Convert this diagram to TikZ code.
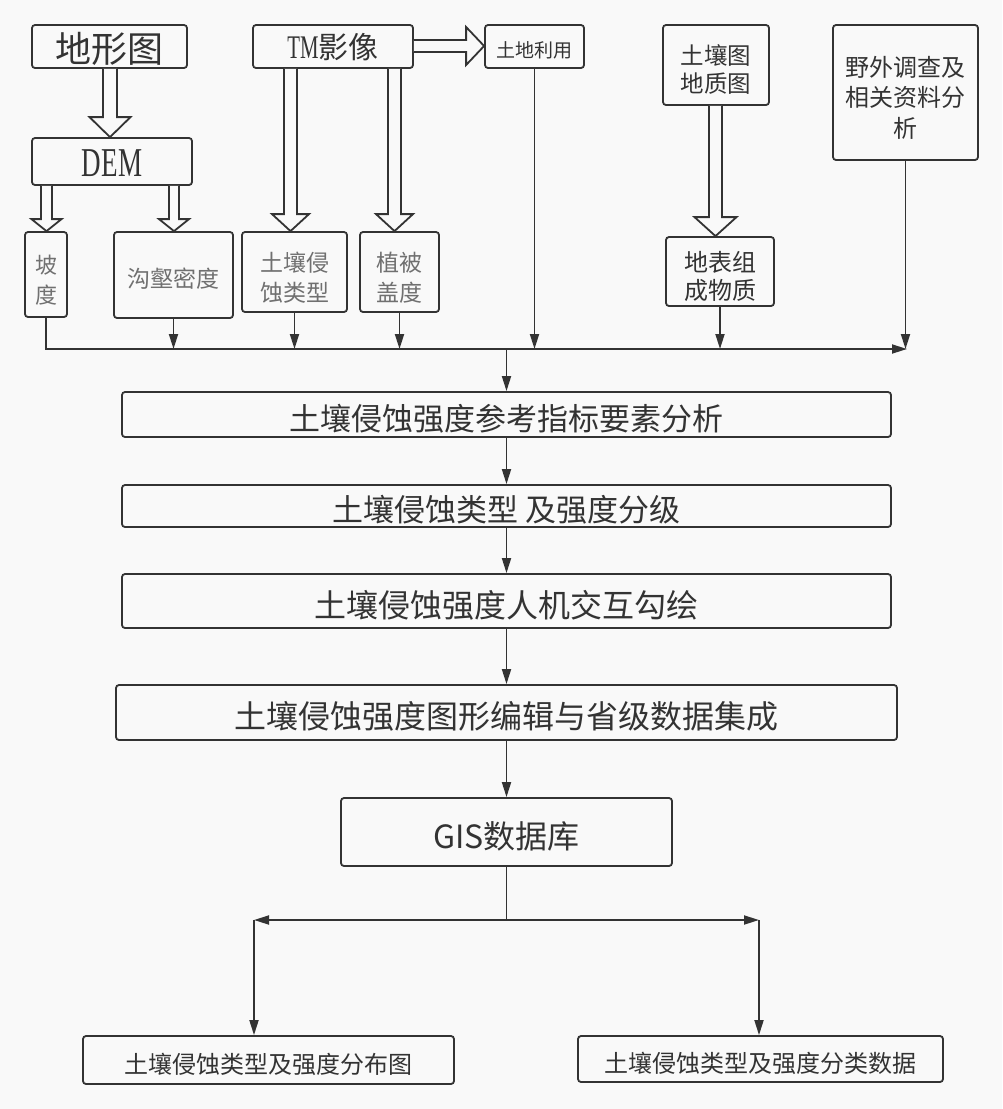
\documentclass[tikz,border=0pt]{standalone}
\usepackage{fontspec}
\usetikzlibrary{arrows.meta,calc}
\setmainfont{Noto Sans CJK SC}
\newfontfamily\lserif{Liberation Serif}
\definecolor{lnc}{HTML}{333333}
\definecolor{bgc}{HTML}{F9F9F9}
\definecolor{gtxt}{HTML}{707070}
\newcommand\fs[2]{\fontsize{#1}{#2}\selectfont}
% lower the text a little inside its box, keeping the box size
\newcommand\dn[1]{\raisebox{-4pt}[\height][\depth]{#1}}
\newcommand\dnm[1]{\raisebox{-8pt}[\height][\depth]{\begin{tabular}{@{}c@{}}#1\end{tabular}}}
\tikzset{
  box/.style={draw=lnc, line width=1.8pt, rounded corners=3pt, fill=bgc, inner sep=0pt, text=lnc},
  graybox/.style={box, text=gtxt},
  arr/.style={draw=lnc, line width=1.8pt, -{Triangle[length=15pt,width=9pt]}},
  conn/.style={draw=lnc, line width=1.8pt},
  hollow/.style={draw=lnc, line width=1.8pt, fill=bgc, line join=miter},
}
% hollow down arrow: from, to, x centre, shaft half, head half, head length
\newcommand\hdown[6]{%
  \draw[hollow] let \p1=(#1.south), \p2=(#2.north) in
    ({(#3-#4)*1pt},\y1) -- ({(#3-#4)*1pt},{\y2+#6pt}) -- ({(#3-#5)*1pt},{\y2+#6pt})
    -- ({#3*1pt},\y2) -- ({(#3+#5)*1pt},{\y2+#6pt}) -- ({(#3+#4)*1pt},{\y2+#6pt})
    -- ({(#3+#4)*1pt},\y1);}
% hollow right arrow: from, to, y centre (px, downward), shaft half, head half, head length
\newcommand\hright[6]{%
  \draw[hollow] let \p1=(#1.east), \p2=(#2.west) in
    (\x1,{-(#3-#4)*1pt}) -- ({\x2-#6pt},{-(#3-#4)*1pt}) -- ({\x2-#6pt},{-(#3-#5)*1pt})
    -- (\x2,{-#3*1pt}) -- ({\x2-#6pt},{-(#3+#5)*1pt}) -- ({\x2-#6pt},{-(#3+#4)*1pt})
    -- (\x1,{-(#3+#4)*1pt});}
\begin{document}
\begin{tikzpicture}[x=1pt,y=-1pt]
\fill[bgc] (0,0) rectangle (1002,1109);
\useasboundingbox (0,0) rectangle (1002,1109);

% top row sources
\node[box, minimum width=155pt, minimum height=43pt, font=\fs{36}{36}] (topo) at (109.5,46.5) {\raisebox{-2.5pt}[\height][\depth]{地形图}};
\node[box, minimum width=160pt, minimum height=47pt] (dem) at (112,161.5)
  {\raisebox{-2pt}[\height][\depth]{\scalebox{0.66}[1]{\lserif\fs{41}{41}DEM}}};
\node[graybox, minimum width=42pt, minimum height=85pt, font=\fs{22}{30}] (slope) at (46,274.5) {\dnm{坡\\度}};
\node[graybox, minimum width=119pt, minimum height=86pt, font=\fs{23}{30}] (gully) at (173.5,275) {\dn{沟壑密度}};

\node[box, minimum width=160pt, minimum height=43pt] (tm) at (333,46.5)
  {\raisebox{-1pt}[\height][\depth]{\scalebox{0.63}[1]{\lserif\fs{33}{33}TM}{\fs{30}{30}影像}}};
\node[box, minimum width=99pt, minimum height=43pt, font=\fs{19}{19}] (land) at (534.5,46.5) {\dn{土地利用}};
\node[graybox, minimum width=105pt, minimum height=80pt, font=\fs{23}{30}] (etype) at (294.5,272) {\dnm{土壤侵\\蚀类型}};
\node[graybox, minimum width=79pt, minimum height=80pt, font=\fs{23}{30}] (veg) at (399.5,272) {\dnm{植被\\盖度}};

\node[box, minimum width=106pt, minimum height=80pt, font=\fs{23.5}{28}] (soil) at (716,65) {\dnm{土壤图\\地质图}};
\node[box, minimum width=108pt, minimum height=69pt, font=\fs{24}{28}] (surf) at (720,271.5) {\dnm{地表组\\成物质}};
\node[box, minimum width=145pt, minimum height=135pt, font=\fs{24}{30.5}] (field) at (905.5,92.5) {\dnm{野外调查及\\相关资料分\\析}};

% main chain
\node[box, minimum width=769pt, minimum height=45pt, font=\fs{31}{31}] (m1) at (506.5,414.5) {\dn{土壤侵蚀强度参考指标要素分析}};
\node[box, minimum width=769pt, minimum height=42pt, font=\fs{31}{31}] (m2) at (506.5,506) {\dn{土壤侵蚀类型 及强度分级}};
\node[box, minimum width=769pt, minimum height=54pt, font=\fs{32}{32}] (m3) at (506.5,601) {\dn{土壤侵蚀强度人机交互勾绘}};
\node[box, minimum width=781pt, minimum height=55pt, font=\fs{32}{32}] (m4) at (506.5,712.5) {\dn{土壤侵蚀强度图形编辑与省级数据集成}};
\node[box, minimum width=331pt, minimum height=68pt, font=\fs{32}{32}] (gis) at (506.5,832) {\dn{GIS数据库}};
\node[box, minimum width=371pt, minimum height=48pt, font=\fs{24}{24}] (out1) at (268.5,1060) {\dn{土壤侵蚀类型及强度分布图}};
\node[box, minimum width=365pt, minimum height=46pt, font=\fs{24}{24}] (out2) at (760.5,1059) {\dn{土壤侵蚀类型及强度分类数据}};

% hollow arrows
\hdown{topo}{dem}{110}{7}{20.5}{20}
\hdown{dem}{slope}{46.5}{5.5}{15}{12}
\hdown{dem}{gully}{174}{5}{15}{12}
\hdown{tm}{etype}{290.5}{6.5}{18.5}{17}
\hdown{tm}{veg}{394.5}{6.5}{18.5}{17}
\hdown{soil}{surf}{715.5}{6.5}{21}{19}
\hright{tm}{land}{46}{6}{19}{18}

% collecting bus
\coordinate (busR) at (907,349);
\coordinate (busM) at (506.5,349);
\draw[arr] (slope.south) |- (busR);
\draw[arr] (gully.south) -- (gully.south |- busR);
\draw[arr] (etype.south) -- (etype.south |- busR);
\draw[arr] (veg.south) -- (veg.south |- busR);
\draw[arr] (land.south) -- (land.south |- busR);
\draw[arr] (surf.south) -- (surf.south |- busR);
\draw[arr] (field.south) -- (field.south |- busR);
\draw[arr] (busM) -- (m1.north);

\draw[arr] (m1) -- (m2);
\draw[arr] (m2) -- (m3);
\draw[arr] (m3) -- (m4);
\draw[arr] (m4) -- (gis);

% split to outputs
\coordinate (sp) at (506.5,920);
\coordinate (spL) at (254,920);
\coordinate (spR) at (759,920);
\draw[conn] (gis.south) -- (sp);
\draw[arr] (sp) -- (spL);
\draw[arr] (sp) -- (spR);
\draw[arr] (spL) -- (spL |- out1.north);
\draw[arr] (spR) -- (spR |- out2.north);
\end{tikzpicture}
\end{document}
